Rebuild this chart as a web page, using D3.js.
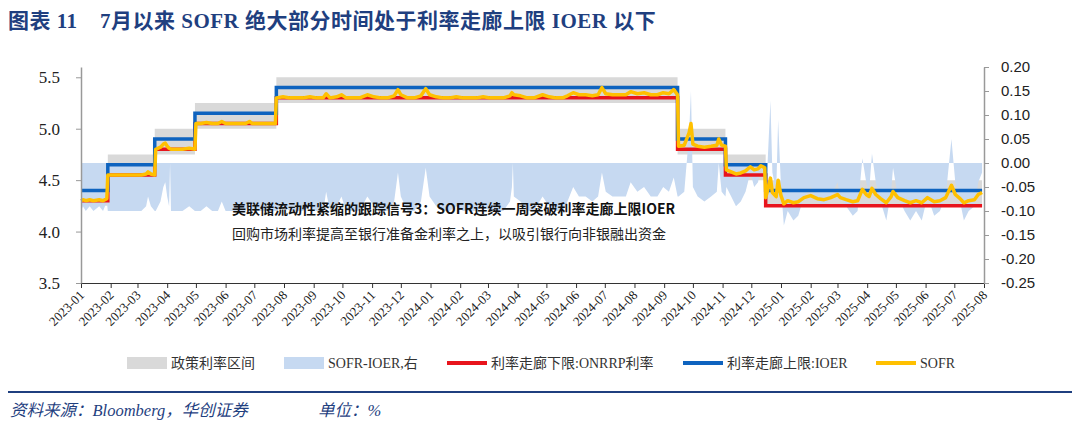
<!DOCTYPE html>
<html>
<head>
<meta charset="utf-8">
<script src="https://cdn.jsdelivr.net/npm/d3@7"></script>
<style>
  html, body { margin: 0; padding: 0; background: #fff; overflow: hidden; }
  svg { display: block; }
</style>
</head>
<body>
<div class="chart"></div>
<script>
// Policy corridor (step changes, dates as placed in the chart)
const policyDates = ["2023-01-01","2023-01-29","2023-03-19","2023-04-30","2023-07-24","2024-09-15","2024-11-04","2024-12-16","2025-07-30"];
const ioer = [4.40,4.65,4.90,5.15,5.40,4.90,4.65,4.40,4.40];
const onrrp = [4.30,4.55,4.80,5.05,5.30,4.80,4.55,4.25,4.25];
const bandLow = [4.25,4.50,4.75,5.00,5.25,4.75,4.50,4.25,4.25];
const bandHigh = [4.50,4.75,5.00,5.25,5.50,5.00,4.75,4.50,4.50];

// Observation dates shared by SOFR (left axis) and SOFR-IOER (right axis)
// null SOFR = holiday with no print (spread area drops to zero there)
const obsDates = [
  "2023-01-01","2023-01-03","2023-01-06","2023-01-10","2023-01-14","2023-01-20","2023-01-24","2023-01-28",
  "2023-01-29","2023-02-05","2023-02-12","2023-02-19","2023-02-26","2023-03-05","2023-03-10","2023-03-12","2023-03-15","2023-03-19",
  "2023-03-20","2023-03-25","2023-03-28","2023-03-30","2023-04-01","2023-04-03","2023-04-04","2023-04-05","2023-04-10","2023-04-17","2023-04-24","2023-04-30",
  "2023-05-01","2023-05-06","2023-05-12","2023-05-18","2023-05-24","2023-05-28","2023-06-01","2023-06-08","2023-06-15","2023-06-22","2023-06-26","2023-06-29","2023-07-06","2023-07-13","2023-07-20","2023-07-23",
  "2023-07-24","2023-07-31","2023-08-07","2023-08-14","2023-08-21","2023-08-28","2023-09-04","2023-09-11","2023-09-14","2023-09-18","2023-09-25","2023-09-30","2023-10-05","2023-10-12","2023-10-19","2023-10-27","2023-11-03","2023-11-10","2023-11-17","2023-11-24","2023-11-28","2023-12-01","2023-12-08","2023-12-15","2023-12-22","2023-12-27","2023-12-31",
  "2024-01-07","2024-01-14","2024-01-21","2024-01-28","2024-02-04","2024-02-11","2024-02-18","2024-02-25","2024-03-03","2024-03-10","2024-03-17","2024-03-24","2024-03-26","2024-03-27","2024-03-28","2024-04-04","2024-04-11","2024-04-18","2024-04-27","2024-05-04","2024-05-11","2024-05-18",
  "2024-05-23","2024-05-29","2024-06-04","2024-06-11","2024-06-18","2024-06-24","2024-06-28","2024-07-02","2024-07-09","2024-07-16","2024-07-23","2024-07-28","2024-08-04","2024-08-11","2024-08-18","2024-08-25","2024-08-31","2024-09-06","2024-09-11","2024-09-15",
  "2024-09-16","2024-09-22","2024-09-27","2024-09-29","2024-10-01","2024-10-06","2024-10-13","2024-10-20","2024-10-26","2024-10-28","2024-10-31","2024-11-04",
  "2024-11-05","2024-11-10","2024-11-15","2024-11-20","2024-11-25","2024-11-30","2024-12-04","2024-12-08","2024-12-11","2024-12-15",
  "2024-12-16","2024-12-18","2024-12-21","2024-12-23","2024-12-27","2024-12-29","2025-01-01","2025-01-04","2025-01-08","2025-01-14","2025-01-19","2025-01-25",
  "2025-02-01","2025-02-08","2025-02-15","2025-02-22","2025-03-01","2025-03-04","2025-03-10","2025-03-17","2025-03-22","2025-03-27","2025-03-31","2025-04-03","2025-04-06","2025-04-10","2025-04-15","2025-04-21","2025-04-26","2025-04-28",
  "2025-05-03","2025-05-10","2025-05-16","2025-05-22","2025-05-28","2025-06-03","2025-06-10","2025-06-16","2025-06-22","2025-06-28","2025-07-02","2025-07-07","2025-07-11","2025-07-16","2025-07-22","2025-07-26","2025-07-30"];

const sofrValues = [
  4.30,4.31,4.30,4.31,4.30,4.31,4.30,4.32,
  4.55,4.55,4.55,4.55,4.55,4.55,4.56,4.58,4.56,4.55,
  4.80,4.82,4.85,4.86,4.83,4.81,null,4.80,4.80,4.80,4.81,4.80,
  5.05,5.05,5.06,5.05,5.05,5.07,5.05,5.05,5.05,5.05,5.07,5.05,5.05,5.05,5.05,5.05,
  5.30,5.31,5.30,5.30,5.30,5.31,5.30,5.30,5.34,5.30,5.31,5.33,5.30,5.30,5.30,5.33,5.31,5.30,5.30,5.32,5.38,5.33,5.30,5.30,5.32,5.39,5.33,
  5.31,5.30,5.30,5.31,5.30,5.30,5.30,5.31,5.30,5.30,5.30,5.32,5.35,null,5.33,5.32,5.30,5.30,5.33,5.31,5.30,5.30,
  5.32,5.35,5.33,5.33,5.32,5.33,5.40,5.34,5.33,5.33,5.33,5.36,5.34,5.35,5.33,5.33,5.35,5.34,5.38,5.33,
  4.83,4.84,4.96,5.05,4.85,4.83,4.82,4.83,4.84,4.90,4.84,4.83,
  4.60,4.58,4.56,4.57,4.59,4.63,4.60,4.61,4.64,4.62,
  4.33,4.40,4.52,4.38,4.34,4.50,4.35,4.27,4.30,4.28,4.29,4.33,
  4.35,4.32,4.31,4.33,4.36,4.33,4.31,4.29,4.30,4.41,4.36,4.34,4.42,4.36,4.32,4.28,4.34,4.39,
  4.33,4.30,4.28,4.30,4.28,4.33,4.29,4.30,4.33,4.45,4.36,4.32,4.28,4.30,4.31,4.36,4.38];

const spreadValues = [
  -0.10,-0.09,-0.10,-0.09,-0.10,-0.09,-0.10,-0.08,
  -0.10,-0.10,-0.10,-0.10,-0.10,-0.10,-0.09,-0.07,-0.09,-0.10,
  -0.10,-0.08,-0.05,-0.04,-0.07,-0.09,0.00,-0.10,-0.10,-0.10,-0.09,-0.10,
  -0.10,-0.10,-0.09,-0.10,-0.10,-0.08,-0.10,-0.10,-0.10,-0.10,-0.08,-0.10,-0.10,-0.10,-0.10,-0.10,
  -0.10,-0.09,-0.10,-0.10,-0.10,-0.09,-0.10,-0.10,-0.06,-0.10,-0.09,-0.07,-0.10,-0.10,-0.10,-0.07,-0.09,-0.10,-0.10,-0.08,-0.02,-0.07,-0.10,-0.10,-0.08,-0.01,-0.07,
  -0.09,-0.10,-0.10,-0.09,-0.10,-0.10,-0.10,-0.09,-0.10,-0.10,-0.10,-0.08,-0.05,0.00,-0.07,-0.08,-0.10,-0.10,-0.07,-0.09,-0.10,-0.10,
  -0.08,-0.05,-0.07,-0.07,-0.08,-0.07,-0.02,-0.06,-0.07,-0.07,-0.07,-0.04,-0.06,-0.05,-0.07,-0.07,-0.05,-0.06,-0.03,-0.07,
  -0.07,-0.06,0.06,0.15,-0.05,-0.07,-0.08,-0.07,-0.06,0.00,-0.06,-0.07,
  -0.05,-0.07,-0.09,-0.08,-0.06,-0.02,-0.05,-0.04,-0.01,-0.03,
  -0.07,0.00,0.13,-0.02,-0.06,0.09,-0.05,-0.13,-0.10,-0.12,-0.11,-0.07,
  -0.05,-0.08,-0.09,-0.07,-0.04,-0.07,-0.09,-0.11,-0.10,0.01,-0.04,-0.06,0.02,-0.04,-0.08,-0.12,-0.06,-0.01,
  -0.07,-0.10,-0.12,-0.10,-0.12,-0.07,-0.11,-0.10,-0.07,0.05,-0.04,-0.08,-0.12,-0.10,-0.09,-0.04,-0.02];

const xTickStart = "2023-01-01", xTickEnd = "2025-08-01";
const leftTicks = [3.5, 4.0, 4.5, 5.0, 5.5];
const rightTicks = [-0.25,-0.20,-0.15,-0.10,-0.05,0.00,0.05,0.10,0.15,0.20];

const legendItems = [
  {label: "政策利率区间", type: "rect", color: "#d9d9d9"},
  {label: "SOFR-IOER,右", type: "rect", color: "#c6d9f1"},
  {label: "利率走廊下限:ONRRP利率", type: "line", color: "#e8141c"},
  {label: "利率走廊上限:IOER", type: "line", color: "#0e63bf"},
  {label: "SOFR", type: "line", color: "#ffc000"}
];

const width = 1080, height = 436;
const margin = {top: 67, right: 96, bottom: 153, left: 81};
const innerWidth = width - margin.left - margin.right;
const innerHeight = height - margin.top - margin.bottom;

const parse = d3.timeParse("%Y-%m-%d");

const svg = d3.select(".chart").append("svg")
  .attr("width", width)
  .attr("height", height);

// Title
const title = svg.append("text")
  .attr("y", 28)
  .attr("fill", "#1f3f7f")
  .style("font-family", "'Liberation Serif', 'Noto Sans CJK SC', serif")
  .style("font-size", "21px")
  .style("font-weight", "bold")
  .style("letter-spacing", "0.5px");
title.append("tspan").attr("x", 8).text("图表 11");
title.append("tspan").attr("x", 100).text("7月以来 SOFR 绝大部分时间处于利率走廊上限 IOER 以下");

const g = svg.append("g")
  .attr("transform", `translate(${margin.left}, ${margin.top})`);

const x = d3.scaleTime()
  .domain([parse(xTickStart), parse(xTickEnd)])
  .range([0, innerWidth]);
const y = d3.scaleLinear().domain([3.5, 5.6]).range([innerHeight, 0]);
const y2 = d3.scaleLinear().domain([-0.25, 0.20]).range([innerHeight, 0]);

const policy = policyDates.map((d, i) => ({
  date: parse(d), ioer: ioer[i], onrrp: onrrp[i], lo: bandLow[i], hi: bandHigh[i]
}));
const obs = obsDates.map((d, i) => ({date: parse(d), sofr: sofrValues[i], spread: spreadValues[i]}));

// Policy range band
g.append("path")
  .datum(policy)
  .attr("fill", "#d9d9d9")
  .attr("d", d3.area().curve(d3.curveStepAfter)
    .x(d => x(d.date)).y0(d => y(d.lo)).y1(d => y(d.hi)));

// SOFR-IOER area on the right axis
g.append("path")
  .datum(obs)
  .attr("fill", "#c6d9f1")
  .attr("d", d3.area()
    .x(d => x(d.date)).y0(y2(0)).y1(d => y2(d.spread)));

// Corridor lines
const stepLine = key => d3.line().curve(d3.curveStepAfter)
  .x(d => x(d.date)).y(d => y(d[key]));

g.append("path").datum(policy)
  .attr("fill", "none").attr("stroke", "#e8141c").attr("stroke-width", 3.5)
  .attr("d", stepLine("onrrp"));
g.append("path").datum(policy)
  .attr("fill", "none").attr("stroke", "#0e63bf").attr("stroke-width", 3.5)
  .attr("d", stepLine("ioer"));

// SOFR line (holidays are skipped, line stays connected)
g.append("path").datum(obs.filter(d => d.sofr !== null))
  .attr("fill", "none").attr("stroke", "#ffc000").attr("stroke-width", 3.5)
  .attr("stroke-linejoin", "round")
  .attr("d", d3.line().x(d => x(d.date)).y(d => y(d.sofr)));

// Axes: lines and ticks from d3 axes, labels placed in page coordinates
const xAxisGen = d3.axisBottom(x).ticks(d3.timeMonth.every(1)).tickSize(5).tickSizeOuter(0);
const xAxis = g.append("g")
  .attr("transform", `translate(0, ${innerHeight})`)
  .call(xAxisGen);
xAxis.selectAll(".tick text").remove();
xAxis.select(".domain").attr("stroke", "#333");
xAxis.selectAll(".tick line").attr("stroke", "#333");

const yAxis = g.append("g")
  .call(d3.axisLeft(y).tickValues(leftTicks).tickSize(5).tickSizeOuter(0));
yAxis.selectAll(".tick text").remove();
yAxis.select(".domain").attr("stroke", "#999").attr("stroke-width", 1.5);
yAxis.selectAll(".tick line").attr("stroke", "#999");

const y2Axis = g.append("g")
  .attr("transform", `translate(${innerWidth}, 0)`)
  .call(d3.axisRight(y2).tickValues(rightTicks).tickSize(5).tickSizeOuter(0));
y2Axis.selectAll(".tick text").remove();
y2Axis.select(".domain").attr("stroke", "#999").attr("stroke-width", 1.5);
y2Axis.selectAll(".tick line").attr("stroke", "#999");
svg.selectAll(".domain").attr("fill", "none");

const monthFmt = d3.timeFormat("%Y-%m");
svg.append("g").selectAll("text")
  .data(x.ticks(d3.timeMonth.every(1)))
  .join("text")
    .attr("x", d => margin.left + x(d) + 4)
    .attr("y", margin.top + innerHeight + 13)
    .attr("transform", d => `rotate(-45, ${margin.left + x(d) + 4}, ${margin.top + innerHeight + 13})`)
    .style("text-anchor", "end")
    .attr("fill", "#1a1a1a")
    .style("font-family", "'Liberation Serif', serif")
    .style("font-size", "13px")
    .text(monthFmt);

svg.append("g").selectAll("text")
  .data(leftTicks)
  .join("text")
    .attr("x", margin.left - 21)
    .attr("y", d => margin.top + y(d))
    .attr("dy", "0.35em")
    .style("text-anchor", "end")
    .attr("fill", "#222")
    .style("font-family", "'Liberation Serif', serif")
    .style("font-size", "17px")
    .text(d3.format(".1f"));

svg.append("g").selectAll("text")
  .data(rightTicks)
  .join("text")
    .attr("x", margin.left + innerWidth + 17)
    .attr("y", d => margin.top + y2(d))
    .attr("dy", "0.35em")
    .attr("fill", "#222")
    .style("font-family", "'Liberation Sans', sans-serif")
    .style("font-size", "15px")
    .text(d => d.toFixed(2));

// Annotation
svg.append("text")
  .attr("x", 232).attr("y", 214)
  .style("font-family", "'Noto Sans CJK SC', sans-serif")
  .style("font-size", "14px")
  .style("font-weight", "bold")
  .attr("fill", "#111")
  .text("美联储流动性紧缩的跟踪信号3：SOFR连续一周突破利率走廊上限IOER");
svg.append("text")
  .attr("x", 232).attr("y", 239)
  .style("font-family", "'Noto Sans CJK SC', sans-serif")
  .style("font-size", "14px")
  .attr("fill", "#222")
  .text("回购市场利率提高至银行准备金利率之上，以吸引银行向非银融出资金");

// Legend
const legendX = [127, 284, 447, 683, 876];
const legendY = 363;
legendItems.forEach((item, i) => {
  if (item.type === "rect") {
    svg.append("rect").attr("x", legendX[i]).attr("y", legendY - 6)
      .attr("width", 40).attr("height", 12).attr("fill", item.color);
  } else {
    svg.append("line").attr("x1", legendX[i]).attr("x2", legendX[i] + 40)
      .attr("y1", legendY).attr("y2", legendY)
      .attr("stroke", item.color).attr("stroke-width", 4);
  }
  svg.append("text")
    .attr("x", legendX[i] + 44).attr("y", legendY + 5)
    .attr("fill", "#333")
    .style("font-family", "'Liberation Serif', 'Noto Sans CJK SC', serif")
    .style("font-size", "14px")
    .text(item.label);
});

// Footer
svg.append("line")
  .attr("x1", 8).attr("x2", 1072).attr("y1", 392).attr("y2", 392)
  .attr("stroke", "#1f3f7f").attr("stroke-width", 2);
svg.append("text")
  .attr("x", 10).attr("y", 416)
  .attr("fill", "#1f3f7f")
  .style("font-family", "'Liberation Serif', 'Noto Sans CJK SC', serif")
  .style("font-size", "16.5px")
  .style("font-style", "italic")
  .text("资料来源：Bloomberg，华创证券");
svg.append("text")
  .attr("x", 318).attr("y", 416)
  .attr("fill", "#1f3f7f")
  .style("font-family", "'Liberation Serif', 'Noto Sans CJK SC', serif")
  .style("font-size", "16.5px")
  .style("font-style", "italic")
  .text("单位：%");
</script>
</body>
</html>
